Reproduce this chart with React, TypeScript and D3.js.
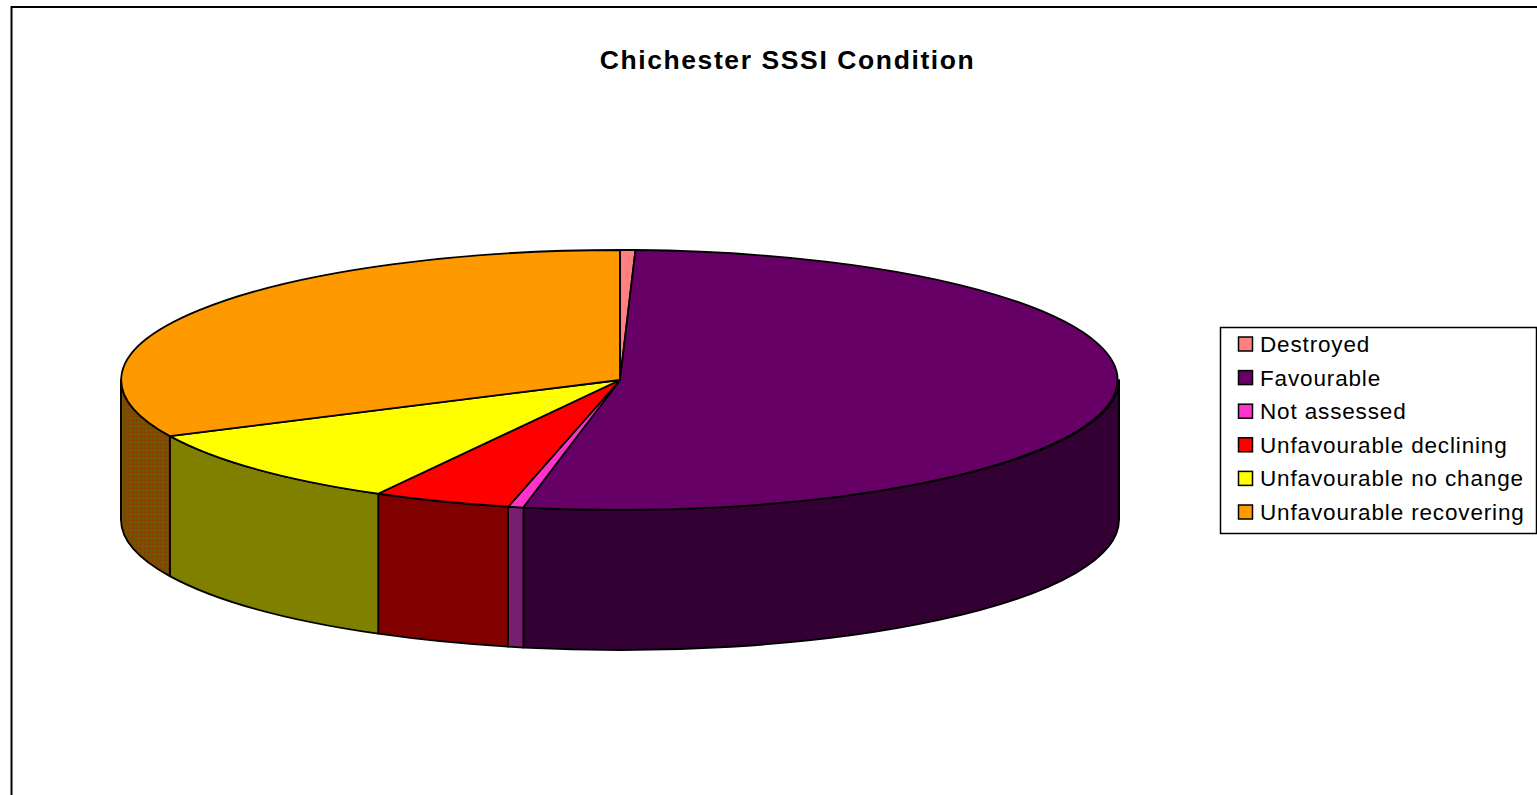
import React from "react";
import * as d3 from "d3";

const categories = ["Destroyed", "Favourable", "Not assessed", "Unfavourable declining", "Unfavourable no change", "Unfavourable recovering"];
const shares = [0.5, 52.6, 0.5, 4.45, 9.85, 32.1];
const topColors = ["#ff8080", "#660066", "#ff33cc", "#ff0000", "#ffff00", "#ff9900"];
const sideColors = ["#803f3f", "#330033", "url(#ditherPink)", "#800000", "#808000", "url(#ditherOrange)"];
const title = "Chichester SSSI Condition";

const cx = 620, cy = 380, rx = 499, ry = 130, depth = 140;

const pie = d3.pie<number>().sort(null).value((d) => d).startAngle(0).endAngle(2 * Math.PI);
const arcs = pie(shares);
const arcGen = d3.arc<d3.PieArcDatum<number>>().innerRadius(0).outerRadius(1);
const ex = (a: number) => cx + rx * Math.sin(a);
const ey = (a: number) => cy - ry * Math.cos(a);

function sidePath(a0: number, a1: number) {
  const s = Math.max(a0, Math.PI / 2);
  const e = Math.min(a1, 1.5 * Math.PI);
  if (e <= s) return null;
  return `M${ex(s)},${ey(s)}A${rx},${ry} 0 0 1 ${ex(e)},${ey(e)}L${ex(e)},${ey(e) + depth}A${rx},${ry} 0 0 0 ${ex(s)},${ey(s) + depth}Z`;
}

const legendY = d3.scalePoint<string>().domain(categories).range([344, 512]);

export default function App() {
  return (
    <svg width={1537} height={795} style={{ position: "absolute", left: 0, top: 0, background: "#fff" }}
      fontFamily="'Liberation Sans', Arial, sans-serif">
      <defs>
        <pattern id="ditherOrange" width={4} height={4} patternUnits="userSpaceOnUse">
          <rect width={4} height={4} fill="#804d00" />
          <rect x={0} y={0} width={1} height={1} fill="#803300" />
          <rect x={2} y={2} width={1} height={1} fill="#6b5a00" />
        </pattern>
        <pattern id="ditherPink" width={4} height={4} patternUnits="userSpaceOnUse">
          <rect width={4} height={4} fill="#801a70" />
          <rect x={0} y={0} width={2} height={2} fill="#5c2a6a" />
        </pattern>
      </defs>
      <rect x={11.5} y={7} width={1530} height={800} fill="#fff" stroke="#000" strokeWidth={2} />
      <text x={787.5} y={69} textAnchor="middle" fontWeight="bold" fontSize={26.5} letterSpacing={1.6} fill="#000">{title}</text>

      {arcs.map((a, i) => {
        const d = sidePath(a.startAngle, a.endAngle);
        return d ? <path key={i} d={d} fill={sideColors[i]} stroke="#000" strokeWidth={1.8} strokeLinejoin="round" /> : null;
      })}
      <line x1={cx - rx} x2={cx - rx} y1={cy} y2={cy + depth} stroke="#000" strokeWidth={1.8} />
      <line x1={cx + rx} x2={cx + rx} y1={cy} y2={cy + depth} stroke="#000" strokeWidth={1.8} />
      <g transform={`translate(${cx},${cy}) scale(${rx},${ry})`}>
        {arcs.map((a, i) => (
          <path key={i} d={arcGen(a)!} fill={topColors[i]} stroke="#000" strokeWidth={1.8} vectorEffect="non-scaling-stroke" strokeLinejoin="round" />
        ))}
      </g>

      <rect x={1220.5} y={327.5} width={316} height={206} fill="#fff" stroke="#000" strokeWidth={1.5} />
      {categories.map((c, i) => {
        const y = legendY(c)!;
        return (
          <g key={c}>
            <rect x={1238.5} y={y - 7} width={14} height={14} fill={topColors[i]} stroke="#000" strokeWidth={1.5} />
            <text x={1260} y={y + 8} fontSize={22.5} letterSpacing={0.85} fill="#000">{c}</text>
          </g>
        );
      })}
    </svg>
  );
}
